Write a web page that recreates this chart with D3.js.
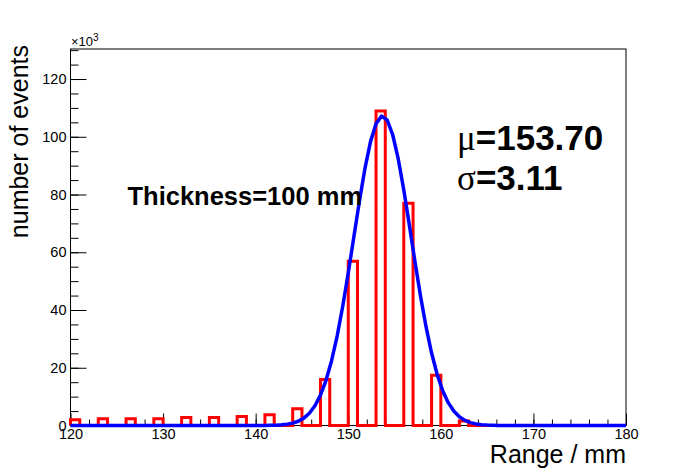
<!doctype html>
<html>
<head>
<script src="https://d3js.org/d3.v7.min.js"></script>
<style>
body { margin: 0; background: #fff; }
text { font-family: "Liberation Sans", Arial, Helvetica, sans-serif; fill: #000; }
.axis .domain { display: none; }
.axis line { stroke: #000; }
.axis text { font-size: 14.5px; }
.greek { font-family: "Liberation Serif", "DejaVu Serif", serif; font-weight: normal; }
</style>
</head>
<body>
<svg width="696" height="472" id="chart"></svg>

<script type="text/javascript">
// filled bins (1 mm wide), counts in units of 10^3 events
var binStart = [120, 123, 126, 129, 132, 135, 138, 141, 144, 147, 150, 153, 156, 159, 162];
var binCount = [2.0, 2.3, 2.3, 2.3, 2.8, 2.8, 3.1, 3.7, 5.8, 15.9, 56.9, 108.9, 77.0, 17.4, 1.6];
var binWidth = 1;

// gaussian fit parameters: constant (x10^3), mean, sigma
var fitConst = [107.2];
var fitMean = [153.70];
var fitSigma = [3.11];

var xTicks = [120, 130, 140, 150, 160, 170, 180];
var yTicks = [0, 20, 40, 60, 80, 100, 120];

var svg = d3.select("#chart");
var frameL = 70.5, frameR = 626, frameT = 49, frameB = 425.5;

var x = d3.scaleLinear().domain([120, 180]).range([frameL, frameR]);
var y = d3.scaleLinear().domain([0, 130.4]).range([frameB, frameT]);

// axes, ticks inside the frame
svg.append("g").attr("class", "axis")
  .attr("transform", "translate(0," + frameB + ")")
  .call(d3.axisBottom(x).tickValues(d3.range(120, 181, 2)).tickSize(-6).tickSizeOuter(0).tickFormat(""));
svg.append("g").attr("class", "axis")
  .attr("transform", "translate(0," + frameB + ")")
  .call(d3.axisBottom(x).tickValues(xTicks).tickSize(-12).tickSizeOuter(0).tickPadding(3));

svg.append("g").attr("class", "axis")
  .attr("transform", "translate(" + frameL + ",0)")
  .call(d3.axisLeft(y).tickValues(d3.range(0, 131, 5)).tickSize(-8).tickSizeOuter(0).tickFormat(""));
svg.append("g").attr("class", "axis")
  .attr("transform", "translate(" + frameL + ",0)")
  .call(d3.axisLeft(y).tickValues(yTicks).tickSize(-16).tickSizeOuter(0).tickPadding(4));

svg.selectAll(".axis").attr("font-family", null).attr("font-size", null);

// frame
svg.append("rect")
  .attr("x", frameL).attr("y", frameT)
  .attr("width", frameR - frameL).attr("height", frameB - frameT)
  .attr("fill", "none").attr("stroke", "#000").attr("stroke-width", 1);

// histogram outline
var counts = d3.range(120, 180, binWidth).map(function (lo) {
  var i = binStart.indexOf(lo);
  return { lo: lo, hi: lo + binWidth, c: i < 0 ? 0 : binCount[i] };
});
var pts = [[120, 0]];
counts.forEach(function (b) { pts.push([b.lo, b.c]); pts.push([b.hi, b.c]); });
pts.push([180, 0]);

var line = d3.line()
  .x(function (d) { return x(d[0]); })
  .y(function (d) { return y(d[1]); });

svg.append("path")
  .attr("d", line(pts))
  .attr("fill", "none")
  .attr("stroke", "#ff0000")
  .attr("stroke-width", 3);

// fit function, drawn like ROOT with 100 points
var fitPts = d3.range(0, 101).map(function (i) {
  var xv = 120 + i * 0.6;
  return [xv, fitConst[0] * Math.exp(-0.5 * Math.pow((xv - fitMean[0]) / fitSigma[0], 2))];
});
svg.append("path")
  .attr("d", line(fitPts))
  .attr("fill", "none")
  .attr("stroke", "#0000ff")
  .attr("stroke-width", 3.5)
  .attr("stroke-linejoin", "round");

// labels
var exp = svg.append("text").attr("x", 71).attr("y", 46).style("font-size", "13px");
exp.append("tspan").text("\u00d710");
exp.append("tspan").attr("dy", -5).style("font-size", "10px").text("3");

svg.append("text")
  .attr("x", frameR).attr("y", 463)
  .attr("text-anchor", "end")
  .style("font-size", "25px")
  .text("Range / mm");

svg.append("text")
  .attr("transform", "translate(27.5,45) rotate(-90)")
  .attr("text-anchor", "end")
  .style("font-size", "25px")
  .text("number of events");

svg.append("text")
  .attr("x", 127.5).attr("y", 205)
  .style("font-size", "25.5px").style("font-weight", "bold")
  .text("Thickness=100 mm");

var mu = svg.append("text").attr("x", 457).attr("y", 149.5)
  .style("font-size", "35px").style("font-weight", "bold");
mu.append("tspan").attr("class", "greek").text("\u03bc");
mu.append("tspan").text("=" + fitMean[0].toFixed(2));

var sg = svg.append("text").attr("x", 457).attr("y", 190)
  .style("font-size", "35px").style("font-weight", "bold");
sg.append("tspan").attr("class", "greek").text("\u03c3");
sg.append("tspan").text("=" + fitSigma[0].toFixed(2));
</script>

</body>
</html>
